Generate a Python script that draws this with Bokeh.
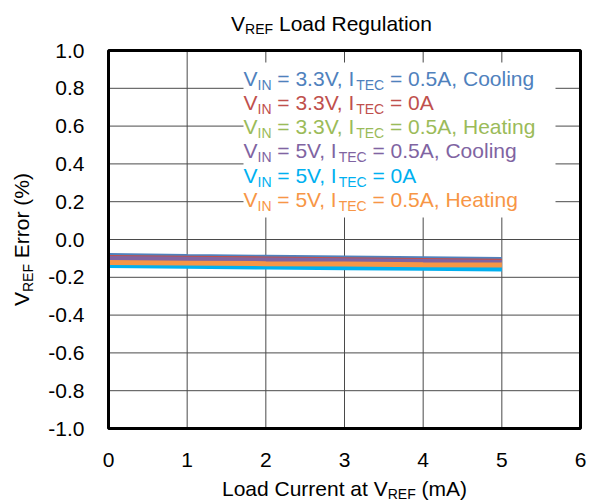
from bokeh.plotting import figure
from bokeh.models import Range1d, Label
from bokeh.core.properties import value
from bokeh.embed import file_html
from bokeh.resources import INLINE
import math

# ---------------- data ----------------
load_ma = [0, 1, 2, 3, 4, 5]
err_33v_cool = [-0.085, -0.090, -0.094, -0.098, -0.102, -0.106]
err_33v_0a = [-0.095, -0.099, -0.103, -0.107, -0.111, -0.115]
err_33v_heat = [-0.104, -0.108, -0.112, -0.116, -0.120, -0.124]
err_5v_cool = [-0.101, -0.105, -0.109, -0.113, -0.117, -0.122]
err_5v_0a = [-0.138, -0.142, -0.146, -0.149, -0.152, -0.156]
err_5v_heat = [-0.122, -0.125, -0.128, -0.130, -0.133, -0.135]

series = [
    (err_33v_cool, "#4F81BD", "3.3V", "0.5A, Cooling"),
    (err_33v_0a, "#C0504D", "3.3V", "0A"),
    (err_33v_heat, "#9BBB59", "3.3V", "0.5A, Heating"),
    (err_5v_cool, "#8064A2", "5V", "0.5A, Cooling"),
    (err_5v_0a, "#00B0F0", "5V", "0A"),
    (err_5v_heat, "#F79646", "5V", "0.5A, Heating"),
]

x_ticks = [0, 1, 2, 3, 4, 5, 6]
y_ticks = [-1.0, -0.8, -0.6, -0.4, -0.2, 0.0, 0.2, 0.4, 0.6, 0.8, 1.0]
x_tick_labels = [str(t) for t in x_ticks]
y_tick_labels = [f"{t:.1f}" for t in y_ticks]

FONT = "Liberation Sans"
W, H = 592, 501
# plot area in canvas pixels
FL, FR, FT, FB = 108, 580, 50, 428
K = 0.357  # measured downward shift of rendered text baselines, per px of font size

X0, X1 = x_ticks[0], x_ticks[-1]
Y0, Y1 = y_ticks[0], y_ticks[-1]
sx = (FR - FL) / (X1 - X0)
sy = (FB - FT) / (Y1 - Y0)


def dx(px):
    return X0 + (px - FL) / sx


def dy(py):
    return Y1 - (py - FT) / sy


p = figure(width=W, height=H, output_backend="svg", toolbar_location=None,
           x_range=Range1d(dx(0), dx(W)), y_range=Range1d(dy(H), dy(0)),
           x_axis_location=None, y_axis_location=None,
           min_border=0, min_border_left=0, min_border_right=0,
           min_border_top=0, min_border_bottom=0)
p.title = None
p.grid.visible = False
p.background_fill_color = "white"
p.border_fill_color = "white"
p.outline_line_color = None

# grid lines
GRID = "#4a4a4a"
p.segment(x0=x_ticks, y0=[Y0] * len(x_ticks), x1=x_ticks, y1=[Y1] * len(x_ticks),
          line_color=GRID, line_width=1)
p.segment(x0=[X0] * len(y_ticks), y0=y_ticks, x1=[X1] * len(y_ticks), y1=y_ticks,
          line_color=GRID, line_width=1)

# data lines
for vals, col, _, _ in series:
    p.line(load_ma, vals, line_color=col, line_width=5)

# legend background (hides grid behind the legend text)
p.quad(left=[dx(243)], right=[dx(555)], top=[dy(62)], bottom=[dy(217)],
       fill_color="white", line_color=None)

# plot border
p.quad(left=[X0], right=[X1], bottom=[Y0], top=[Y1], fill_color=None,
       line_color="black", line_width=3)

# tick labels
TFS = 21
p.text(x=x_ticks, y=[dy(FB + 39 - K * TFS)] * len(x_ticks), text=x_tick_labels,
       text_align="center", text_baseline="alphabetic",
       text_font=value(FONT), text_font_size=value(f"{TFS}px"), text_color="black")
p.text(x=[dx(FL - 24)] * len(y_ticks), y=[t - (7.5 - K * TFS) / sy for t in y_ticks],
       text=y_tick_labels, text_align="right", text_baseline="alphabetic",
       text_font=value(FONT), text_font_size=value(f"{TFS}px"), text_color="black")

# -------------- rich text helpers --------------
WID = {' ': 278, '%': 889, '(': 333, ')': 333, ',': 278, '-': 333, '.': 278, '=': 584,
       'A': 667, 'C': 722, 'E': 667, 'F': 611, 'H': 722, 'I': 278, 'L': 556, 'N': 722,
       'R': 722, 'T': 611, 'V': 667, 'a': 556, 'c': 500, 'd': 556, 'e': 556, 'g': 556,
       'i': 222, 'l': 222, 'm': 833, 'n': 556, 'o': 556, 'r': 333, 't': 278, 'u': 556}


def tw(s, size):
    return sum(WID.get(c, 556) for c in s) * size / 1000.0


def rich(parts, x0, base, size, sub, color, align="left", rotated=False, shift=4):
    total = sum(tw(t, sub if s else size) for t, s in parts)
    start = x0 - total / 2 if align == "center" else x0
    if rotated:
        start = x0 + total / 2
    pos = 0.0
    for t, s in parts:
        fs = sub if s else size
        lead = len(t) - len(t.lstrip(' '))
        txt = t.strip(' ')
        off = pos + tw(' ' * lead, fs)
        b = base + (shift if s else 0) - K * fs
        if txt:
            if not rotated:
                lx, ly, ang = start + off, b, 0
            else:
                lx, ly, ang = b, start - off, math.pi / 2
            p.add_layout(Label(x=dx(lx), y=dy(ly), text=txt, angle=ang,
                               text_font=FONT, text_font_size=f"{fs}px",
                               text_color=color, text_align="left",
                               text_baseline="alphabetic"))
        pos += tw(t, fs)


# legend texts
for i, (_, col, vin, itec) in enumerate(series):
    rich([("V", False), ("IN", True), (f" = {vin}, I", False), ("TEC", True),
          (f" = {itec}", False)], 243, 85 + 24.3 * i, 21, 14, col)

# title
rich([("V", False), ("REF", True), (" Load Regulation", False)],
     331, 30, 21, 14, "black", align="center", shift=3)
# x axis label
rich([("Load Current at V", False), ("REF", True), (" (mA)", False)],
     (FL + FR) / 2, 495, 21, 14, "black", align="center", shift=3)
# y axis label
rich([("V", False), ("REF", True), (" Error (%)", False)],
     (FT + FB) / 2, 28, 21, 14, "black", rotated=True)

open("out.html", "w").write(file_html(p, INLINE))
